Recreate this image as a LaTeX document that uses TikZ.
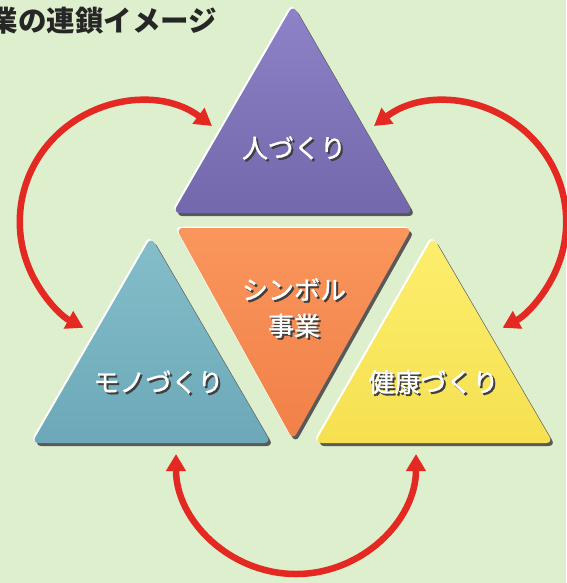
\documentclass[tikz,border=0pt]{standalone}
\usepackage{fontspec}
\setmainfont{Noto Sans CJK JP}
\newfontfamily\jplbl[FakeBold=1.2]{Noto Sans CJK JP}
\usetikzlibrary{arrows.meta,calc}
\definecolor{bg}{RGB}{222,239,205}
\definecolor{arrowred}{RGB}{228,40,34}
\definecolor{purpT}{RGB}{142,130,200}
\definecolor{purpB}{RGB}{116,104,172}
\definecolor{oranT}{RGB}{250,150,92}
\definecolor{oranB}{RGB}{240,128,72}
\definecolor{tealT}{RGB}{132,190,202}
\definecolor{tealB}{RGB}{108,168,184}
\definecolor{yellT}{RGB}{252,238,110}
\definecolor{yellB}{RGB}{246,224,80}
\newcommand{\bevtri}[5]{%
  \fill[black!65,rounded corners=7] ($(#3)+(2.5,3)$) -- ($(#4)+(2.5,3)$) -- ($(#5)+(2.5,3)$) -- cycle;
  \fill[white,rounded corners=7] ($(#3)+(-1.5,-1.5)$) -- ($(#4)+(-1.5,-1.5)$) -- ($(#5)+(-1.5,-1.5)$) -- cycle;
  \shade[top color=#1,bottom color=#2,rounded corners=7] (#3) -- (#4) -- (#5) -- cycle;}
\newcommand{\shtxt}[1]{\rlap{\kern2pt\raisebox{-2pt}{\textcolor{black!75}{#1}}}\textcolor{white}{#1}}
\begin{document}
\begin{tikzpicture}[x=1pt,y=-1pt,
  redarrow/.style={draw=arrowred,line width=6.5pt,{Triangle[length=17pt,width=19pt]}-{Triangle[length=17pt,width=19pt]}},
  lbl/.style={font=\jplbl\fontsize{26}{36}\selectfont,align=center,inner sep=0pt}]
\fill[bg] (0,0) rectangle (566,583);
\useasboundingbox (0,0) rectangle (566,583);
% title
\node[anchor=base west,inner sep=0pt,font=\bfseries\fontsize{28.5}{32}\selectfont,text=black!85] (title) at (-10.5,32) {業の連鎖イメージ};
% triangle vertices
\coordinate (PA) at (293,5);   \coordinate (PB) at (173,213); \coordinate (PC) at (413,213);
\coordinate (OA) at (176,228); \coordinate (OB) at (412,228); \coordinate (OC) at (293,440);
\coordinate (TA) at (151,237); \coordinate (TB) at (32,443);  \coordinate (TC) at (271,443);
\coordinate (YA) at (433,237); \coordinate (YB) at (315,443); \coordinate (YC) at (553,443);
\bevtri{purpT}{purpB}{PA}{PB}{PC}
\bevtri{oranT}{oranB}{OA}{OB}{OC}
\bevtri{tealT}{tealB}{TA}{TB}{TC}
\bevtri{yellT}{yellB}{YA}{YB}{YC}
% labels
\node[lbl] (hito) at (294,149) {\shtxt{人づくり}};
\node[lbl] (sym) at (294,309) {\shtxt{シンボル}\\\shtxt{事業}};
\node[lbl] (mono) at (158.5,383) {\shtxt{モノづくり}};
\node[lbl] (ken) at (433.5,383) {\shtxt{健康づくり}};
% arrows
\coordinate (LA) at (212,126);
\draw[redarrow] (LA) arc[start angle=-53,end angle=-242,radius=120];
\coordinate (RA) at (374,126);
\draw[redarrow] (RA) arc[start angle=233,end angle=422,radius=120];
\coordinate (BA) at (176,454);
\draw[redarrow] (BA) arc[start angle=180,end angle=0,radius=120];
\end{tikzpicture}
\end{document}
